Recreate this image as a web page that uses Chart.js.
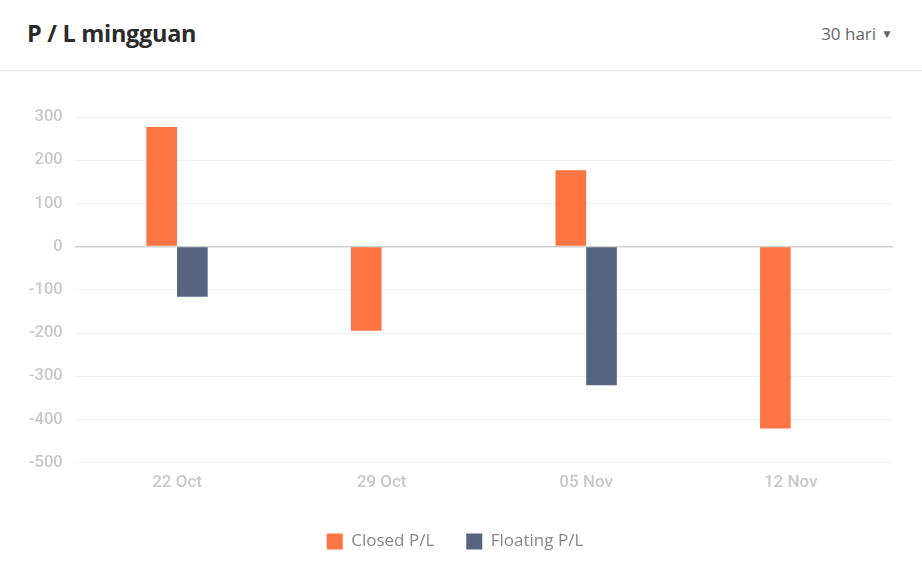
<!DOCTYPE html>
<html>
<head>
<meta charset="utf-8">
<script src="https://cdn.jsdelivr.net/npm/chart.js@4/dist/chart.umd.min.js"></script>
<style>
  html, body { margin: 0; padding: 0; background: #fff; }
  .header {
    height: 70px; border-bottom: 1px solid #e6e6e6; position: relative;
    font-family: "Open Sans", sans-serif;
  }
  .title { position: absolute; left: 27px; top: 17px; font-size: 23.5px; font-weight: 700; color: #2b2b2b; letter-spacing: -0.3px; }
  .range { position: absolute; right: 29px; top: 22px; font-size: 17px; color: #666; }
  .range span { font-size: 12px; margin-left: 5px; vertical-align: 2px; }
  .wrap { position: relative; width: 922px; height: 499px; }
</style>
</head>
<body>
<div class="header">
  <div class="title">P / L mingguan</div>
  <div class="range">30 hari<span>&#9660;</span></div>
</div>
<div class="wrap"><canvas id="plCanvas"></canvas></div>
<script>
const weeks = ["22 Oct", "29 Oct", "05 Nov", "12 Nov"];
const closedPL = [277, -195, 177, -421];
const floatingPL = [-116, 0, -321, 0];

const ctx = document.getElementById("plCanvas").getContext("2d");

new Chart(ctx, {
  type: "bar",
  data: {
    labels: weeks,
    datasets: [{
      label: "Closed P/L",
      data: closedPL,
      backgroundColor: "#ff7443",
      categoryPercentage: 0.3,
      barPercentage: 1
    }, {
      label: "Floating P/L",
      data: floatingPL,
      backgroundColor: "#56657f",
      categoryPercentage: 0.3,
      barPercentage: 1
    }]
  },
  options: {
    responsive: true,
    maintainAspectRatio: false,
    animation: false,
    layout: { padding: { top: 46, right: 29, left: 17, bottom: 10 } },
    plugins: {
      legend: {
        position: "bottom",
        labels: {
          color: "#888",
          font: { family: "Open Sans", size: 17 },
          boxWidth: 16,
          boxHeight: 16,
          padding: 32
        }
      },
      tooltip: { enabled: false }
    },
    scales: {
      x: {
        grid: { display: false },
        border: { display: false },
        afterFit: (axis) => { axis.height += 6; },
        ticks: {
          color: "#c8c8c8",
          font: { family: "Roboto", size: 17, weight: "500" },
          padding: 2
        }
      },
      y: {
        min: -500,
        max: 300,
        border: { display: false },
        grid: {
          color: (c) => c.tick && c.tick.value === 0 ? "#cfcfcf" : "#f2f2f2",
          lineWidth: (c) => c.tick && c.tick.value === 0 ? 1.5 : 1,
          drawTicks: false
        },
        ticks: {
          stepSize: 100,
          color: "#c8c8c8",
          font: { family: "Roboto", size: 16.5, weight: "500" },
          padding: 12
        }
      }
    }
  }
});
</script>
</body>
</html>
